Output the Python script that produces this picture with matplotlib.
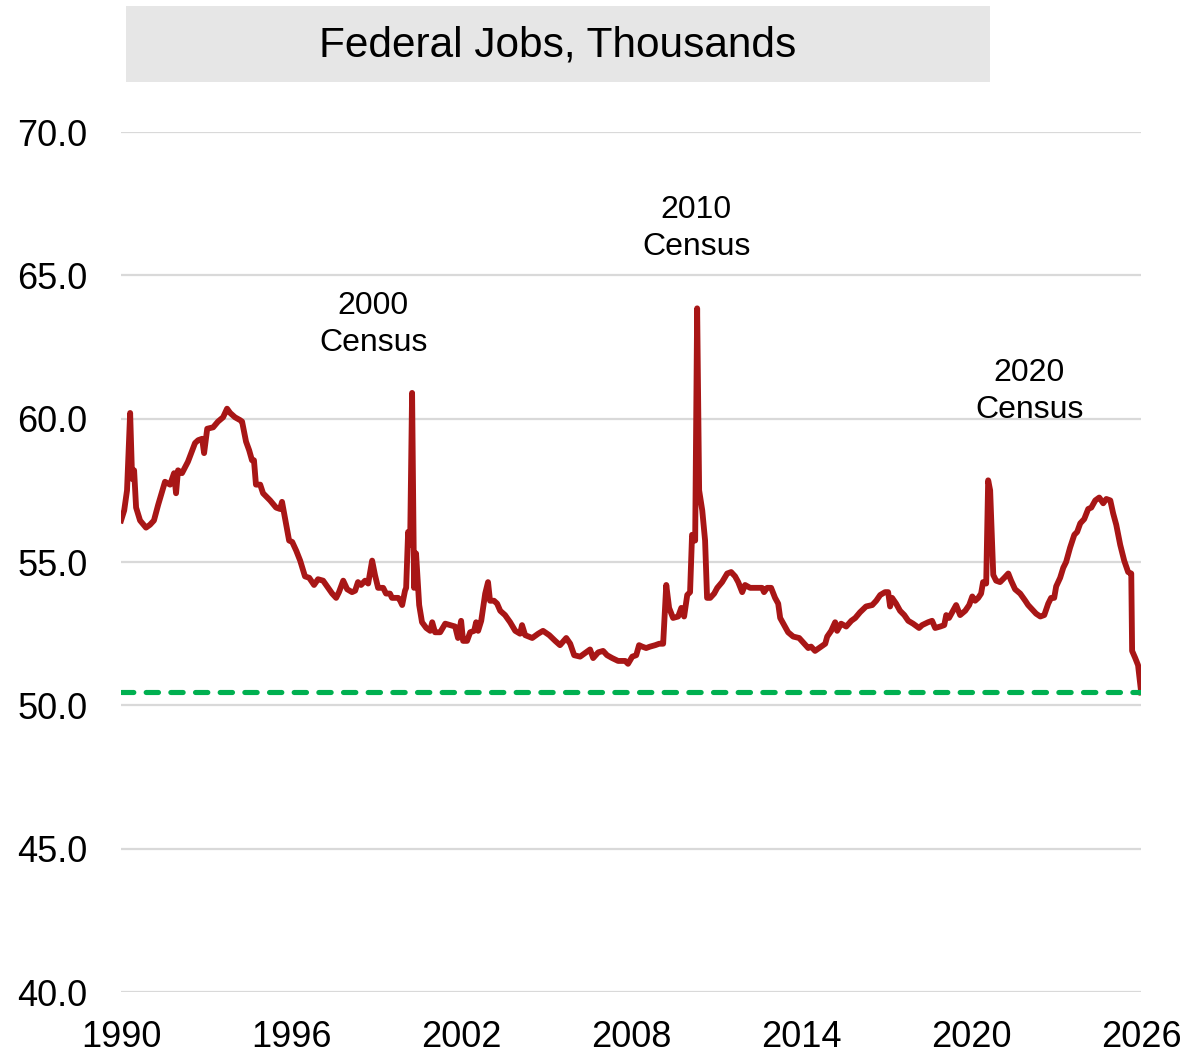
import numpy as np
import matplotlib
matplotlib.use("Agg")
import matplotlib.pyplot as plt
from matplotlib.patches import Rectangle

plt.rcParams['font.family'] = ['Liberation Sans', 'DejaVu Sans']

# federal jobs (thousands)
years = [
    1990.00, 1990.11, 1990.21, 1990.32, 1990.39, 1990.46, 1990.53, 1990.67, 1990.88, 1991.02,
    1991.16, 1991.31, 1991.55, 1991.73, 1991.87, 1991.94, 1992.01, 1992.15, 1992.36, 1992.61,
    1992.72, 1992.86, 1992.93, 1993.04, 1993.25, 1993.42, 1993.60, 1993.74, 1993.85, 1994.02,
    1994.20, 1994.27, 1994.41, 1994.52, 1994.62, 1994.69, 1994.76, 1994.91, 1995.01, 1995.26,
    1995.47, 1995.61, 1995.68, 1995.79, 1995.93, 1996.04, 1996.18, 1996.32, 1996.49, 1996.64,
    1996.81, 1996.95, 1997.13, 1997.31, 1997.45, 1997.59, 1997.69, 1997.84, 1997.98, 1998.15,
    1998.26, 1998.36, 1998.47, 1998.61, 1998.72, 1998.86, 1998.96, 1999.07, 1999.25, 1999.35,
    1999.49, 1999.56, 1999.78, 1999.85, 1999.92, 2000.02, 2000.06, 2000.13, 2000.20, 2000.27,
    2000.34, 2000.41, 2000.52, 2000.62, 2000.77, 2000.91, 2000.98, 2001.08, 2001.26, 2001.44,
    2001.61, 2001.79, 2001.89, 2002.00, 2002.07, 2002.21, 2002.32, 2002.46, 2002.53, 2002.60,
    2002.71, 2002.85, 2002.95, 2003.02, 2003.16, 2003.27, 2003.38, 2003.55, 2003.73, 2003.91,
    2004.08, 2004.15, 2004.26, 2004.51, 2004.72, 2004.89, 2005.11, 2005.32, 2005.49, 2005.71,
    2005.85, 2005.99, 2006.20, 2006.41, 2006.55, 2006.66, 2006.84, 2007.01, 2007.15, 2007.33,
    2007.54, 2007.79, 2007.89, 2008.04, 2008.18, 2008.28, 2008.39, 2008.53, 2008.67, 2008.85,
    2008.99, 2009.13, 2009.24, 2009.34, 2009.48, 2009.66, 2009.77, 2009.87, 2009.98, 2010.08,
    2010.15, 2010.26, 2010.33, 2010.40, 2010.51, 2010.61, 2010.68, 2010.79, 2010.93, 2011.04,
    2011.21, 2011.39, 2011.53, 2011.67, 2011.78, 2011.92, 2012.02, 2012.20, 2012.38, 2012.62,
    2012.69, 2012.80, 2012.94, 2013.08, 2013.19, 2013.26, 2013.40, 2013.54, 2013.72, 2013.93,
    2014.11, 2014.25, 2014.35, 2014.49, 2014.71, 2014.85, 2014.92, 2015.06, 2015.20, 2015.27,
    2015.41, 2015.59, 2015.77, 2015.91, 2016.08, 2016.29, 2016.51, 2016.65, 2016.79, 2016.96,
    2017.07, 2017.14, 2017.21, 2017.35, 2017.49, 2017.64, 2017.78, 2017.95, 2018.16, 2018.27,
    2018.48, 2018.62, 2018.73, 2018.91, 2019.05, 2019.12, 2019.22, 2019.47, 2019.61, 2019.79,
    2019.93, 2020.04, 2020.14, 2020.25, 2020.35, 2020.42, 2020.53, 2020.60, 2020.67, 2020.78,
    2020.88, 2021.02, 2021.17, 2021.31, 2021.41, 2021.55, 2021.73, 2021.91, 2022.01, 2022.15,
    2022.29, 2022.44, 2022.58, 2022.72, 2022.82, 2022.93, 2023.00, 2023.14, 2023.25, 2023.35,
    2023.49, 2023.64, 2023.74, 2023.85, 2023.99, 2024.13, 2024.24, 2024.38, 2024.52, 2024.66,
    2024.77, 2024.91, 2025.01, 2025.12, 2025.26, 2025.40, 2025.54, 2025.65, 2025.68, 2025.79,
    2025.89, 2026.00,
]
jobs = [
    56.45, 56.8, 57.5, 60.2, 57.9, 58.2, 56.9, 56.45, 56.2, 56.3,
    56.45, 57.0, 57.8, 57.7, 58.1, 57.4, 58.2, 58.1, 58.5, 59.15,
    59.25, 59.3, 58.8, 59.65, 59.7, 59.9, 60.05, 60.35, 60.2, 60.05,
    59.95, 59.9, 59.2, 58.9, 58.55, 58.55, 57.7, 57.7, 57.4, 57.15,
    56.9, 56.85, 57.1, 56.5, 55.75, 55.7, 55.4, 55.05, 54.5, 54.45,
    54.2, 54.4, 54.35, 54.1, 53.9, 53.75, 53.95, 54.35, 54.05, 53.95,
    54.0, 54.3, 54.2, 54.35, 54.25, 55.05, 54.55, 54.1, 54.1, 53.9,
    53.9, 53.75, 53.75, 53.65, 53.5, 54.0, 54.1, 56.05, 55.6, 60.9,
    54.1, 55.3, 53.5, 52.9, 52.7, 52.6, 52.9, 52.55, 52.55, 52.85,
    52.8, 52.75, 52.35, 52.95, 52.25, 52.25, 52.55, 52.6, 52.9, 52.6,
    52.95, 53.9, 54.3, 53.65, 53.65, 53.55, 53.3, 53.15, 52.9, 52.6,
    52.5, 52.8, 52.45, 52.35, 52.5, 52.6, 52.45, 52.25, 52.1, 52.35,
    52.15, 51.75, 51.7, 51.85, 51.95, 51.65, 51.85, 51.9, 51.75, 51.65,
    51.55, 51.55, 51.45, 51.7, 51.75, 52.1, 52.05, 52.0, 52.05, 52.1,
    52.15, 52.15, 54.2, 53.4, 53.05, 53.1, 53.4, 53.1, 53.85, 53.95,
    55.95, 55.75, 63.85, 57.5, 56.8, 55.75, 53.75, 53.75, 53.9, 54.1,
    54.3, 54.6, 54.65, 54.5, 54.3, 53.95, 54.2, 54.1, 54.1, 54.1,
    53.95, 54.1, 54.1, 53.75, 53.55, 53.05, 52.8, 52.55, 52.4, 52.35,
    52.15, 52.0, 52.05, 51.9, 52.05, 52.15, 52.4, 52.6, 52.9, 52.6,
    52.85, 52.75, 52.95, 53.05, 53.25, 53.45, 53.5, 53.65, 53.85, 53.95,
    53.95, 53.45, 53.75, 53.55, 53.3, 53.15, 52.95, 52.85, 52.7, 52.8,
    52.9, 52.95, 52.7, 52.75, 52.8, 53.15, 53.05, 53.5, 53.15, 53.3,
    53.5, 53.8, 53.65, 53.75, 53.9, 54.3, 54.25, 57.85, 57.5, 54.55,
    54.35, 54.3, 54.45, 54.6, 54.35, 54.05, 53.9, 53.65, 53.5, 53.35,
    53.2, 53.1, 53.15, 53.55, 53.75, 53.75, 54.15, 54.45, 54.8, 55.0,
    55.5, 55.95, 56.05, 56.35, 56.5, 56.85, 56.9, 57.15, 57.25, 57.05,
    57.2, 57.15, 56.7, 56.3, 55.6, 55.05, 54.65, 54.6, 51.9, 51.65,
    51.4, 50.45,
]
latest_level = 50.45

x_ticks = [1990, 1996, 2002, 2008, 2014, 2020, 2026]
y_ticks = [40, 45, 50, 55, 60, 65, 70]

census_labels = ["2000\nCensus", "2010\nCensus", "2020\nCensus"]
census_x = [1998.9, 2010.3, 2022.05]
census_y = [63.3, 66.65, 60.95]

fig = plt.figure(figsize=(11.87, 10.53), dpi=100)
ax = fig.add_axes([0.102, 0.0579, 0.8594, 0.8167])

for yv in y_ticks:
    ax.axhline(yv, color='#d9d9d9', lw=1.6, zorder=1)

ax.plot(years, jobs, color='#a81616', lw=4.2, solid_joinstyle='round', zorder=3)
ax.axhline(latest_level, color='#00b050', lw=3.7, dashes=(2.4, 2.4),
           dash_capstyle='round', zorder=4)

for lab, xx, yy in zip(census_labels, census_x, census_y):
    ax.text(xx, yy, lab, ha='center', va='center', fontsize=23, linespacing=1.3)

ax.set_xlim(1990, 2026)
ax.set_ylim(40, 70)
ax.set_xticks(x_ticks)
ax.set_yticks(y_ticks)
ax.set_yticklabels([f"{v:.1f}" for v in y_ticks])
ax.tick_params(axis='both', length=0, labelsize=26)
ax.tick_params(axis='x', pad=20)
ax.tick_params(axis='y', pad=24)
for s in ax.spines.values():
    s.set_visible(False)

# title box
fig.patches.append(Rectangle((126 / 1187, 1 - 82 / 1053), 864 / 1187, 76 / 1053,
                             transform=fig.transFigure, facecolor='#e6e6e6',
                             edgecolor='none'))
fig.text(558 / 1187, 1 - 46 / 1053, "Federal Jobs, Thousands", ha='center',
         va='center', fontsize=30.5)

fig.savefig("out.png", dpi=100)
